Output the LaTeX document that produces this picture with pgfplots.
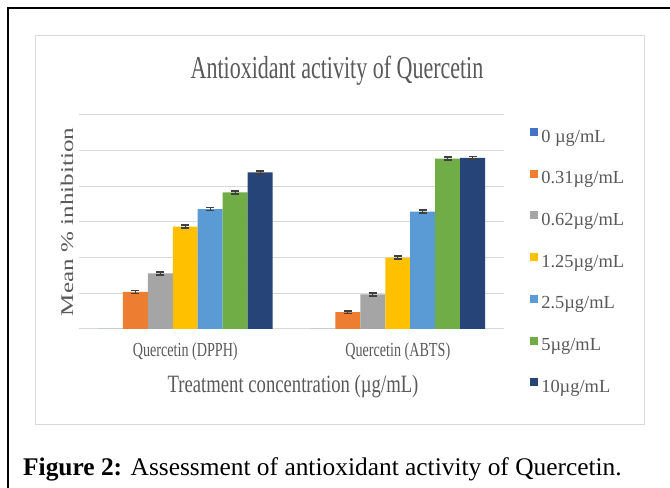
\documentclass[border=0pt]{standalone}
\usepackage{pgfplots}
\pgfplotsset{compat=1.18}
\usepackage{pgfplotstable}
\usepackage{fontspec}
\setmainfont{Liberation Serif}
\definecolor{c0}{HTML}{4472C4}
\definecolor{c1}{HTML}{ED7D31}
\definecolor{c2}{HTML}{A5A5A5}
\definecolor{c3}{HTML}{FFC000}
\definecolor{c4}{HTML}{5B9BD5}
\definecolor{c5}{HTML}{70AD47}
\definecolor{c6}{HTML}{264478}
\definecolor{txt}{HTML}{595959}
\definecolor{gridc}{HTML}{D9D9D9}
\definecolor{errc}{HTML}{404040}

\pgfplotstableread{
x c0 c1 c2 c3 c4 c5 c6
0 0 10.4 15.6 28.7 33.6 38.3 43.9
1 0 4.7 9.7 20.0 32.9 47.8 48.0
}\datatable

\begin{document}
\begin{tikzpicture}[x=1bp,y=1bp]
\path[use as bounding box] (0,0) rectangle (670,488);
\fill[white] (0,0) rectangle (670,488);
\draw[black, line width=1.5bp] (8,0) -- (8,480) -- (670,480);
\draw[gridc, line width=1bp] (35,452) rectangle (644,63);
\node[txt, anchor=base, inner sep=0pt, font=\fontsize{32}{34}\selectfont] at (337,409) {\scalebox{0.69}[1]{Antioxidant activity of Quercetin}};
\node[txt, rotate=90, inner sep=0pt, font=\fontsize{18}{20}\selectfont] at (67,266) {\scalebox{1.4}[1]{Mean \% inhibition}};
\node[txt, anchor=base, inner sep=0pt, font=\fontsize{25}{27}\selectfont] at (293,95) {\scalebox{0.75}[1]{Treatment concentration (µg/mL)}};
\node[anchor=base west, inner sep=0pt, font=\fontsize{25.5}{27}\selectfont, text=black] at (23,12) {\textbf{Figure 2:} Assessment of antioxidant activity of Quercetin.};
\begin{axis}[
  at={(79bp,159bp)}, anchor=south west,
  scale only axis, width=425bp, height=214bp,
  ybar=0pt, bar width=0.1175,
  xmin=-0.5, xmax=1.5, ymin=0, ymax=60,
  ytick={0,10,...,60}, yticklabels={},
  xtick={0,1}, xticklabels={\scalebox{0.71}[1]{Quercetin (DPPH)},\scalebox{0.71}[1]{Quercetin (ABTS)}},
  xticklabel style={anchor=base, yshift=-28bp, text=txt, font=\fontsize{20}{22}\selectfont},
  major tick length=0pt,
  ymajorgrids, grid style={gridc, line width=1bp},
  axis x line*=bottom, axis y line*=left,
  x axis line style={gridc, line width=1bp},
  y axis line style={draw=none},
  every axis plot/.append style={draw=none},
  error bars/y dir=both, error bars/y fixed=0.4,
  error bars/error bar style={errc, line width=1bp},
  error bars/error mark options={rotate=90, mark size=4bp, errc, line width=1.5bp},
  legend style={at={(1.0612,0.94)}, anchor=north west, draw=none, fill=none,
    inner sep=0pt, row sep=23.7bp, text=txt, font=\fontsize{18.5}{20}\selectfont,
    nodes={inner sep=0pt, text height=14bp, text depth=4bp},
    /tikz/every even column/.append style={column sep=0bp}},
  legend cell align=left,
  legend image code/.code={\fill[#1] (0bp,1bp) rectangle (8bp,9bp);},
]
\addplot[fill=c0, error bars/y dir=none] table[x=x,y=c0] {\datatable};
\addplot[fill=c1] table[x=x,y=c1] {\datatable};
\addplot[fill=c2] table[x=x,y=c2] {\datatable};
\addplot[fill=c3] table[x=x,y=c3] {\datatable};
\addplot[fill=c4] table[x=x,y=c4] {\datatable};
\addplot[fill=c5] table[x=x,y=c5] {\datatable};
\addplot[fill=c6] table[x=x,y=c6] {\datatable};
\legend{\,0 µg/mL,\,0.31µg/mL,\,0.62µg/mL,\,1.25µg/mL,\,2.5µg/mL,\,5µg/mL,\,10µg/mL}
\end{axis}
\end{tikzpicture}
\end{document}
